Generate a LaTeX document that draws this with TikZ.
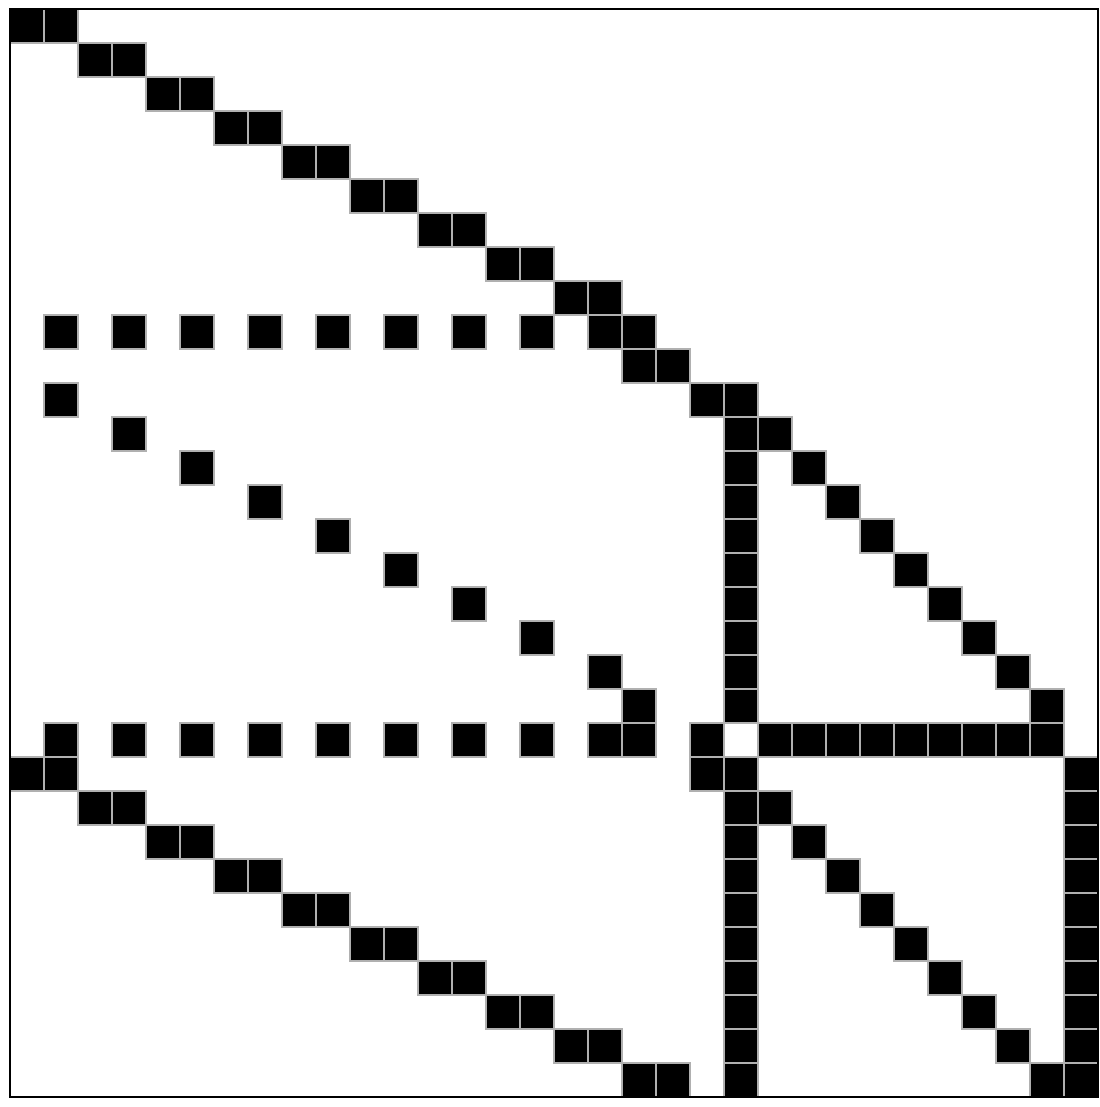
\documentclass[tikz,border=0pt]{standalone}
\begin{document}
\begin{tikzpicture}[x=0.02cm,y=-0.02cm,
  cellbox/.style={fill=black,draw={rgb,255:red,176;green,176;blue,176},line width=0.04cm},
  zerobox/.style={fill=white,draw={rgb,255:red,176;green,176;blue,176},line width=0.04cm},
  framebox/.style={draw=black,line width=0.05cm}]
\useasboundingbox (0,0) rectangle (1100,1107);
\foreach \r/\c in {0/0,0/1,1/2,1/3,2/4,2/5,3/6,3/7,4/8,4/9,5/10,5/11,6/12,6/13,7/14,7/15,8/16,8/17,
9/1,9/3,9/5,9/7,9/9,9/11,9/13,9/15,9/17,9/18,
10/18,10/19,
11/1,11/20,11/21,
12/3,12/21,12/22,
13/5,13/21,13/23,
14/7,14/21,14/24,
15/9,15/21,15/25,
16/11,16/21,16/26,
17/13,17/21,17/27,
18/15,18/21,18/28,
19/17,19/21,19/29,
20/18,20/21,20/30,
21/1,21/3,21/5,21/7,21/9,21/11,21/13,21/15,21/17,21/18,21/20,21/22,21/23,21/24,21/25,21/26,21/27,21/28,21/29,21/30,
22/0,22/1,22/20,22/21,22/31,
23/2,23/3,23/21,23/22,23/31,
24/4,24/5,24/21,24/23,24/31,
25/6,25/7,25/21,25/24,25/31,
26/8,26/9,26/21,26/25,26/31,
27/10,27/11,27/21,27/26,27/31,
28/12,28/13,28/21,28/27,28/31,
29/14,29/15,29/21,29/28,29/31,
30/16,30/17,30/21,30/29,30/31,
31/18,31/19,31/21,31/30,31/31}
  \draw[cellbox] ({10+34*\c},{9+34*\r}) rectangle ++(34,34);
\draw[zerobox] ({10+34*21},{9+34*21}) rectangle ++(34,34);
\draw[framebox] (10,9) rectangle (1098,1097);
\end{tikzpicture}
\end{document}
